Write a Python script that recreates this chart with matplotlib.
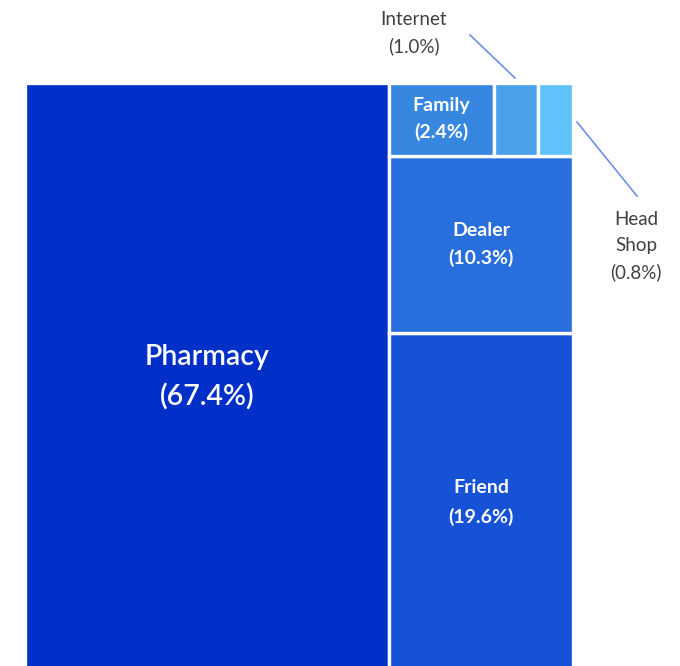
import matplotlib
matplotlib.use("Agg")
import matplotlib.pyplot as plt
from matplotlib.patches import Rectangle

plt.rcParams['font.family'] = ['Lato', 'DejaVu Sans']

# Data
categories = ["Pharmacy", "Friend", "Dealer", "Family", "Internet", "Head Shop"]
values = [67.4, 19.6, 10.3, 2.4, 1.0, 0.8]
colors = ["#0030C8", "#1552D6", "#286EDC", "#3787E1", "#4BA0EB", "#5FC3FA"]
inside_labels = {"Pharmacy", "Friend", "Dealer", "Family"}

total = sum(values)
val = dict(zip(categories, values))
col = dict(zip(categories, colors))

fig = plt.figure(figsize=(6.8, 6.66), dpi=100)
ax = fig.add_axes([25/680, -6/666, 548/680, 589/666])
ax.set_xlim(0, total)
ax.set_ylim(0, 1)
ax.axis('off')

rects = {}
pw = val["Pharmacy"]
rects["Pharmacy"] = (0, 0, pw, 1)
rest = total - pw
x0 = pw
y = 0
for c in ["Friend", "Dealer"]:
    h = val[c] / rest
    rects[c] = (x0, y, rest, h)
    y += h
top_total = val["Family"] + val["Internet"] + val["Head Shop"]
h = top_total / rest
xx = x0
for c in ["Family", "Internet", "Head Shop"]:
    w = val[c] / top_total * rest
    rects[c] = (xx, y, w, h)
    xx += w

for c in categories:
    x, yy, w, hh = rects[c]
    ax.add_patch(Rectangle((x, yy), w, hh, facecolor=col[c], edgecolor="white",
                           linewidth=2.4))
    if c in inside_labels:
        if c == "Pharmacy":
            fs, wt, ls = 20.5, 'semibold', 1.6
        elif c == "Friend":
            fs, wt, ls = 14, 'bold', 1.8
        else:
            fs, wt, ls = 14, 'bold', 1.6
        ax.text(x + w/2, yy + hh/2, f"{c}\n({val[c]:.1f}%)", ha='center', va='center',
                color='white', fontsize=fs, fontweight=wt, linespacing=ls)

def px(x, y):
    return (x/680, 1 - y/666)

fig.text(*px(414, 33), f"Internet\n({val['Internet']:.1f}%)", ha='center', va='center',
         color='#404040', fontsize=13.5, linespacing=1.65)
fig.text(*px(636, 246), f"Head\nShop\n({val['Head Shop']:.1f}%)", ha='center', va='center',
         color='#404040', fontsize=13.5, linespacing=1.65)
fig.add_artist(plt.Line2D([470/680, 515/680], [1-35/666, 1-78/666], color='#6F8FE8', lw=1.2))
fig.add_artist(plt.Line2D([577/680, 637/680], [1-122/666, 1-196/666], color='#6F8FE8', lw=1.2))

fig.savefig("out.png", dpi=100)
